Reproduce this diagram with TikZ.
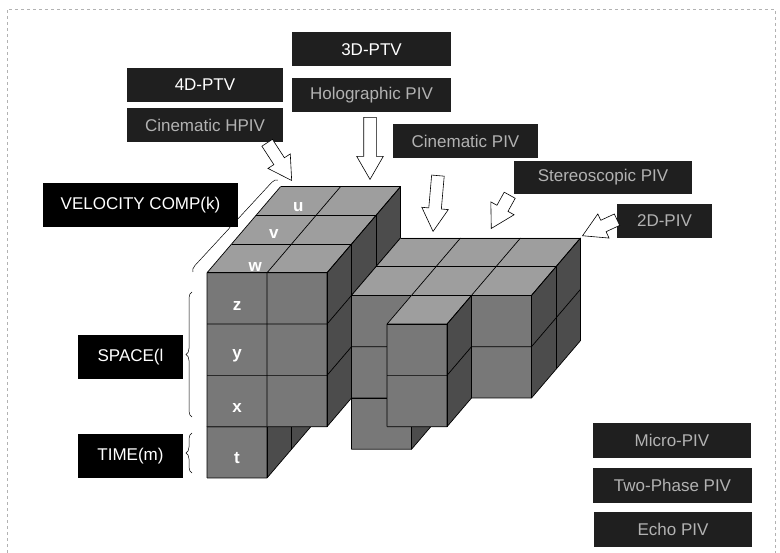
\documentclass[tikz,border=0pt]{standalone}
\usepackage{fontspec}
\setmainfont{Liberation Sans}
\usepackage{xcolor}
\usepackage{tikz}
\usetikzlibrary{arrows.meta,shapes.arrows,decorations.pathreplacing}

\definecolor{frontgray}{gray}{0.47}
\definecolor{topgray}{gray}{0.62}
\definecolor{sidegray}{gray}{0.30}

\tikzset{
  cubeline/.style={black,line width=0.7pt},
  darktag/.style={fill=black!88,text=black!30,font=\fontsize{17}{19}\selectfont,inner sep=0pt,minimum height=34pt},
  blacktag/.style={fill=black,text=white,font=\fontsize{17}{19}\selectfont,inner sep=0pt,minimum height=44pt,minimum width=105pt},
  celltag/.style={text=white,font=\bfseries\fontsize{17}{17}\selectfont},
  hollowarrow/.style={single arrow,draw=black,fill=white,line width=0.6pt,inner sep=6pt,
    single arrow head extend=7pt,single arrow tip angle=60,anchor=tip},
  sidebrace/.style={decorate,decoration={brace,amplitude=6pt},line width=0.5pt}
}

% box of cubes: x0 y0 z0 nx ny nz
\newcommand{\cuboid}[6]{%
  \pgfmathsetmacro{\xa}{#1+#4}\pgfmathsetmacro{\ya}{#2+#5}\pgfmathsetmacro{\za}{#3+#6}
  \fill[frontgray] (#1,#2,#3) -- (\xa,#2,#3) -- (\xa,\ya,#3) -- (#1,\ya,#3) -- cycle;
  \fill[topgray] (#1,\ya,#3) -- (\xa,\ya,#3) -- (\xa,\ya,\za) -- (#1,\ya,\za) -- cycle;
  \fill[sidegray] (\xa,#2,#3) -- (\xa,#2,\za) -- (\xa,\ya,\za) -- (\xa,\ya,#3) -- cycle;
  \foreach \i in {0,...,#4} \draw[cubeline] (#1+\i,#2,#3) -- (#1+\i,\ya,#3) -- (#1+\i,\ya,\za);
  \foreach \j in {0,...,#5} \draw[cubeline] (#1,#2+\j,#3) -- (\xa,#2+\j,#3) -- (\xa,#2+\j,\za);
  \foreach \k in {0,...,#6} \draw[cubeline] (#1,\ya,#3+\k) -- (\xa,\ya,#3+\k) -- (\xa,#2,#3+\k);
}

\begin{document}
\begin{tikzpicture}[x=1pt,y=-1pt]
  \useasboundingbox (0,0) rectangle (780,553);
  \draw[dashed,gray!60,line width=0.8pt] (7,553) -- (7,9) -- (775,9) -- (775,553);

  % the cubes
  \begin{scope}[shift={(207,478)}]
  \begin{scope}[x={(60pt,0pt)},y={(0pt,51.3pt)},z={(24.5pt,28.7pt)}]
    \cuboid{0}{0}{0}{1}{1}{3}
    \cuboid{0}{1}{0}{2}{3}{3}
    \cuboid{2}{0}{1}{1}{1}{2}
    \cuboid{2}{1}{1}{3}{2}{2}
    \cuboid{3}{1}{0}{1}{2}{1}
    \node[celltag,yshift=-6pt] (lblU) at (0.5,4,2.5) {u};
    \node[celltag,yshift=-4pt] (lblV) at (0.5,4,1.5) {v};
    \node[celltag,yshift=-9pt] (lblW) at (0.6,4,0.5) {w};
    \node[celltag,yshift=-8pt] (lblZ) at (0.5,3.5,0) {z};
    \node[celltag,yshift=-6pt] (lblY) at (0.5,2.5,0) {y};
    \node[celltag,yshift=-7pt] (lblX) at (0.5,1.5,0) {x};
    \node[celltag,yshift=-6pt] (lblT) at (0.5,0.5,0) {t};
  \end{scope}
  \end{scope}

  % method boxes
  \node[darktag,text=white,minimum width=159pt] (ptvThree) at (371.5,49.5) {3D-PTV};
  \node[darktag,minimum width=159pt] (holoPiv) at (371.5,95) {Holographic PIV};
  \node[darktag,text=white,minimum width=156pt] (ptvFour) at (205,85) {4D-PTV};
  \node[darktag,minimum width=156pt] (cineHpiv) at (205,125.5) {Cinematic HPIV};
  \node[darktag,minimum width=145pt] (cinePiv) at (465.5,141) {Cinematic PIV};
  \node[darktag,minimum width=178pt,minimum height=33pt] (stereoPiv) at (603,177.5) {Stereoscopic PIV};
  \node[darktag,minimum width=95pt] (piv2d) at (664.5,221) {2D-PIV};
  \node[darktag,minimum width=158pt,minimum height=35pt] (microPiv) at (672,440.5) {Micro-PIV};
  \node[darktag,minimum width=159pt,minimum height=35pt] (twoPhase) at (672.5,485.5) {Two-Phase PIV};
  \node[darktag,minimum width=158pt,minimum height=35pt] (echoPiv) at (673,529.5) {Echo PIV};

  % axis boxes
  \node[blacktag,minimum width=195pt] (velComp) at (140.5,205) {VELOCITY COMP(k)};
  \node[blacktag] (spaceTag) at (130.5,357) {SPACE(l};
  \node[blacktag] (timeTag) at (130.5,456) {TIME(m)};

  \draw[sidebrace] (193,272) -- (278,180);
  \draw[sidebrace] (192,417) -- (192,292);
  \draw[sidebrace] (192,473) -- (192,433);

  % hollow arrows
  \node[hollowarrow,minimum height=45pt,rotate=-57] (arrHpiv) at (292,181) {};
  \node[hollowarrow,minimum height=62pt,rotate=-90] (arrHolo) at (370,180) {};
  \node[hollowarrow,minimum height=56pt,rotate=-95] (arrCine) at (433,232) {};
  \node[hollowarrow,minimum height=38pt,rotate=-119] (arrStereo) at (491,229) {};
  \node[hollowarrow,minimum height=38pt,rotate=-155] (arrTwoD) at (582,236) {};
\end{tikzpicture}
\end{document}
